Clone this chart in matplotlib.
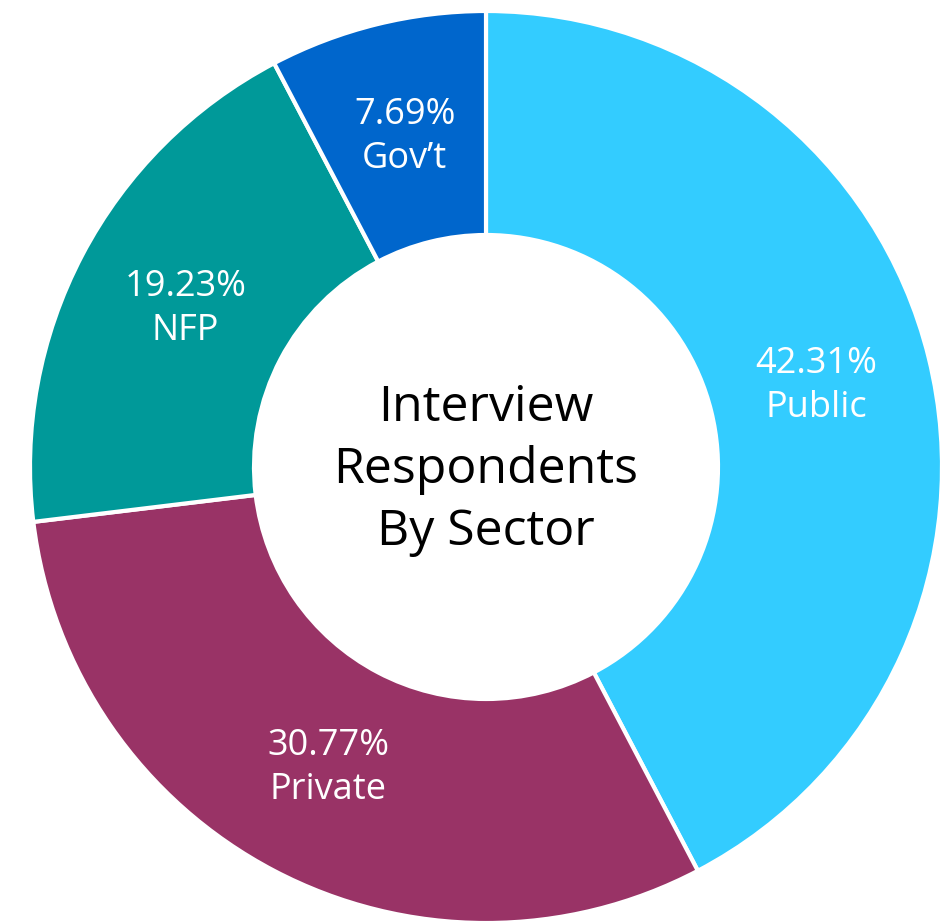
import numpy as np
import matplotlib.pyplot as plt

# sector shares of interview respondents
sectors = ["Public", "Private", "NFP", "Gov\u2019t"]
shares = [42.31, 30.77, 19.23, 7.69]
colors = ["#33CCFF", "#993366", "#009999", "#0066CC"]

plt.rcParams['font.family'] = ['Open Sans', 'DejaVu Sans']

fig = plt.figure(figsize=(9.44, 9.22), dpi=100)
ax = fig.add_axes([0, 0, 1, 1])

wedges, texts = ax.pie(shares, colors=colors, startangle=90, counterclock=False,
                       center=(486, 455), radius=456,
                       wedgeprops=dict(width=224, edgecolor="white", linewidth=3))

# labels sit at ~0.74 of the outer radius, in the middle of each wedge
for w, name, val in zip(wedges, sectors, shares):
    mid = np.deg2rad((w.theta1 + w.theta2) / 2)
    r = 0.745 * w.r
    x = w.center[0] + r * np.cos(mid)
    y = w.center[1] + r * np.sin(mid)
    ax.text(x, y, "%.2f%%\n%s" % (val, name), ha="center", va="center",
            color="white", fontsize=26, linespacing=1.3)

ax.text(486, 452, "Interview\nRespondents\nBy Sector", ha="center", va="center",
        color="black", fontsize=36, linespacing=1.32)

ax.set_xlim(0, 944)
ax.set_ylim(0, 922)
ax.set_aspect("equal")
ax.axis("off")

fig.savefig("out.png", dpi=100)
